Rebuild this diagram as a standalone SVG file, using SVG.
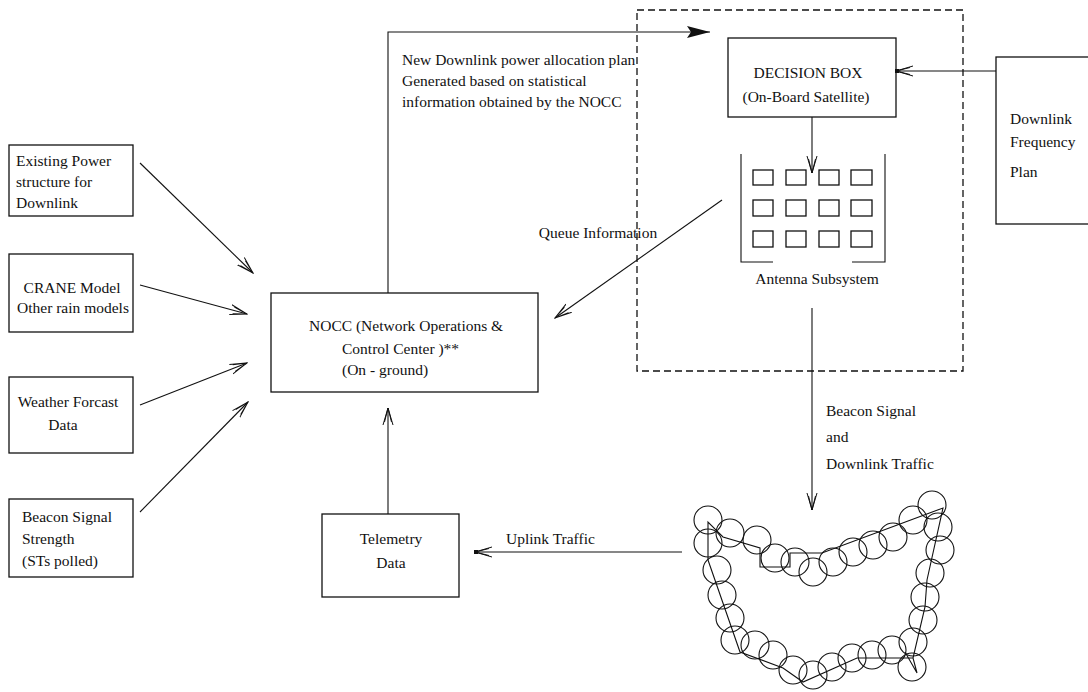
<svg xmlns="http://www.w3.org/2000/svg" width="1088" height="692" viewBox="0 0 1088 692">
<style>
text{font-family:"Liberation Serif","DejaVu Serif",serif;font-size:15.5px;fill:#111}
.box{fill:none;stroke:#111;stroke-width:1.3}
.ln{fill:none;stroke:#111;stroke-width:1.1}
.arr{fill:none;stroke:#111;stroke-width:1.1;marker-end:url(#open)}
.c{fill:none;stroke:#111;stroke-width:1.1}
.m{text-anchor:middle}
</style>
<defs>
<marker id="open" viewBox="0 0 18 12" refX="17" refY="6" markerWidth="18" markerHeight="12" markerUnits="userSpaceOnUse" orient="auto">
<path d="M0,1 L17,6 L0,11 M3,2.5 L17,6 L3,9.5" fill="none" stroke="#111" stroke-width="1"/>
</marker>
<marker id="openDot" viewBox="0 0 18 12" refX="17" refY="6" markerWidth="18" markerHeight="12" markerUnits="userSpaceOnUse" orient="auto">
<path d="M0,1 L17,6 L0,11 M3,2.5 L17,6 L3,9.5" fill="none" stroke="#111" stroke-width="1"/>
<rect x="14" y="4" width="4" height="4" fill="#111"/>
</marker>
<marker id="solid" viewBox="0 0 24 12" refX="23" refY="6" markerWidth="24" markerHeight="12" markerUnits="userSpaceOnUse" orient="auto">
<path d="M0,0 L23,6 L0,12 L4,6 Z" fill="#111"/>
</marker>
</defs>

<g id="satellite-boundary">
<rect x="637" y="10" width="326" height="361" fill="none" stroke="#111" stroke-width="1.3" stroke-dasharray="7 4"/>
</g>

<g id="existing-power">
<rect class="box" x="9" y="145" width="124" height="71"/>
<text x="16" y="166">Existing Power</text>
<text x="16" y="187">structure for</text>
<text x="16" y="208">Downlink</text>
</g>

<g id="crane-model">
<rect class="box" x="9" y="254" width="124" height="78"/>
<text class="m" x="72" y="293">CRANE Model</text>
<text class="m" x="73" y="313">Other rain models</text>
</g>

<g id="weather-forcast">
<rect class="box" x="9" y="377" width="124" height="76"/>
<text class="m" x="68" y="407">Weather Forcast</text>
<text class="m" x="63" y="430">Data</text>
</g>

<g id="beacon-strength">
<rect class="box" x="9" y="499" width="124" height="78"/>
<text x="22" y="522">Beacon Signal</text>
<text x="22" y="544">Strength</text>
<text x="22" y="566">(STs polled)</text>
</g>

<g id="nocc">
<rect class="box" x="271" y="293" width="267" height="99"/>
<text x="309" y="331">NOCC (Network Operations &amp;</text>
<text x="342" y="354">Control Center )**</text>
<text x="342" y="375">(On - ground)</text>
</g>

<g id="telemetry">
<rect class="box" x="322" y="514" width="137" height="83"/>
<text class="m" x="391" y="544">Telemetry</text>
<text class="m" x="391" y="568">Data</text>
</g>

<g id="decision-box">
<rect class="box" x="728" y="38" width="168" height="79"/>
<text class="m" x="808" y="78">DECISION BOX</text>
<text class="m" x="806" y="102">(On-Board Satellite)</text>
</g>

<g id="antenna-subsystem">
<path class="ln" d="M741,154 V262 H773 M885,154 V262 H852"/>
<g class="box">
<rect x="753" y="170" width="20" height="15"/><rect x="786" y="170" width="20" height="15"/><rect x="819" y="170" width="20" height="15"/><rect x="851" y="170" width="21" height="15"/>
<rect x="753" y="200" width="20" height="16"/><rect x="786" y="200" width="20" height="16"/><rect x="819" y="200" width="20" height="16"/><rect x="851" y="200" width="21" height="16"/>
<rect x="753" y="231" width="20" height="16"/><rect x="786" y="231" width="20" height="16"/><rect x="819" y="231" width="20" height="16"/><rect x="851" y="231" width="21" height="16"/>
</g>
<text class="m" x="817" y="284">Antenna Subsystem</text>
</g>

<g id="downlink-frequency-plan">
<rect class="box" x="996" y="57" width="100" height="167"/>
<text x="1010" y="124">Downlink</text>
<text x="1010" y="147">Frequency</text>
<text x="1010" y="177">Plan</text>
</g>

<g id="coverage-area">
<path class="ln" d="M708,560 L708,522 L723,537 L760,548 L760,567 L790,567 L790,553 L822,553 L943,508 L927,580 L925,607 L913,658 L917,673 L905,652 M913,658 L857,658 L803,682 L783,668 L740,652 L708,560"/>
<g class="c">
<circle cx="708" cy="520" r="14"/><circle cx="708" cy="543" r="14"/><circle cx="730" cy="533" r="14"/><circle cx="757" cy="540" r="14"/>
<circle cx="775" cy="558" r="14"/><circle cx="795" cy="562" r="14"/><circle cx="813" cy="572" r="14"/><circle cx="833" cy="562" r="14"/>
<circle cx="853" cy="552" r="14"/><circle cx="873" cy="545" r="14"/><circle cx="893" cy="537" r="14"/><circle cx="913" cy="520" r="14"/>
<circle cx="932" cy="505" r="14"/><circle cx="938" cy="527" r="14"/><circle cx="940" cy="550" r="14"/><circle cx="930" cy="573" r="14"/>
<circle cx="925" cy="597" r="14"/><circle cx="923" cy="620" r="14"/><circle cx="913" cy="642" r="14"/><circle cx="912" cy="667" r="14"/>
<circle cx="892" cy="650" r="14"/><circle cx="872" cy="655" r="14"/><circle cx="852" cy="658" r="14"/><circle cx="832" cy="667" r="14"/>
<circle cx="813" cy="675" r="14"/><circle cx="793" cy="670" r="14"/><circle cx="773" cy="655" r="14"/><circle cx="755" cy="645" r="14"/>
<circle cx="735" cy="640" r="14"/><circle cx="730" cy="618" r="14"/><circle cx="722" cy="595" r="14"/><circle cx="717" cy="570" r="14"/>
</g>
</g>

<g id="connectors">
<path class="arr" d="M140,163 L253,273"/>
<path class="arr" d="M140,285 L247,314"/>
<path class="arr" d="M140,405 L247,363"/>
<path class="arr" d="M140,512 L248,402"/>
<path class="ln" d="M388,293 V32 H710" marker-end="url(#solid)"/>
<path class="arr" d="M722,200 L555,318"/>
<path class="arr" d="M812,117 V173"/>
<path class="ln" d="M996,71 H896" marker-end="url(#openDot)"/>
<path class="arr" d="M812,308 V510"/>
<path class="arr" d="M388,514 V408"/>
<path class="ln" d="M682,552 H475" marker-end="url(#openDot)"/>
<text x="402" y="65">New Downlink power allocation plan</text>
<text x="402" y="86">Generated based on statistical</text>
<text x="402" y="107">information obtained by the NOCC</text>
<text class="m" x="598" y="238">Queue Information</text>
<text x="826" y="416">Beacon Signal</text>
<text x="826" y="442">and</text>
<text x="826" y="469">Downlink Traffic</text>
<text x="506" y="544">Uplink Traffic</text>
</g>
</svg>
